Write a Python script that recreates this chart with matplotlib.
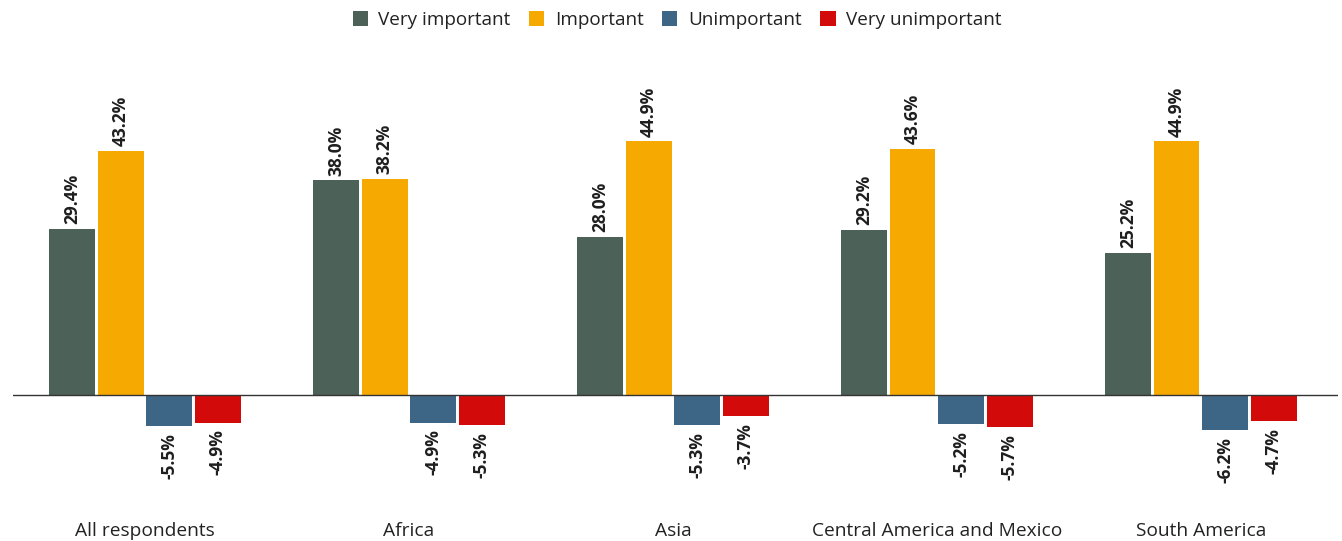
import matplotlib
matplotlib.use("Agg")
import matplotlib.pyplot as plt
import matplotlib.transforms as mtransforms
import numpy as np

plt.rcParams['font.family'] = ['Open Sans', 'DejaVu Sans']

regions = ["All respondents", "Africa", "Asia", "Central America and Mexico", "South America"]
series_names = ["Very important", "Important", "Unimportant", "Very unimportant"]
very_important = [29.4, 38.0, 28.0, 29.2, 25.2]
important = [43.2, 38.2, 44.9, 43.6, 44.9]
unimportant = [-5.5, -4.9, -5.3, -5.2, -6.2]
very_unimportant = [-4.9, -5.3, -3.7, -5.7, -4.7]
colors = ["#4c6157", "#f6a900", "#3d6585", "#d20a0a"]

series = [very_important, important, unimportant, very_unimportant]

W, H = 1342, 541
fig = plt.figure(figsize=(W / 100, H / 100), dpi=100)
ax = fig.add_axes([13 / W, (H - 440) / H, (1338 - 13) / W, (440 - 124) / H])

x = np.arange(len(regions))
step = 0.184
width = 0.174
offsets = (np.arange(4) - 1.5) * step

for vals, name, col, off in zip(series, series_names, colors, offsets):
    bars = ax.bar(x + off, vals, width=width, color=col, label=name, zorder=2)
    for b, v in zip(bars, vals):
        cx = b.get_x() + b.get_width() / 2
        up = v >= 0
        ax.annotate(f"{v:.1f}%", (cx, v), xytext=(0, 3.5 if up else -5),
                    textcoords="offset points", rotation=90, ha="center",
                    va="bottom" if up else "top", fontsize=12.5, fontweight="bold",
                    color="#1e1e1e", annotation_clip=False)

ax.axhline(0, color="#333333", lw=1.0, zorder=3)
ax.set_xlim(-0.5, 4.52)
ax.set_ylim(-8, 48)
ax.set_yticks([])
ax.set_xticks([])
for s in ax.spines.values():
    s.set_visible(False)

# region names along the bottom edge of the figure
name_tr = mtransforms.blended_transform_factory(ax.transData, fig.transFigure)
for xi, name in zip(x, regions):
    ax.text(xi, (H - 531) / H, name, transform=name_tr, ha="center", va="center",
            fontsize=13.8, color="#222222")

handles, labels = ax.get_legend_handles_labels()
fig.legend(handles, labels, loc="center", bbox_to_anchor=(677 / W, (H - 20) / H), ncol=4,
           frameon=False, fontsize=13.6, handlelength=0.8, handleheight=0.8,
           handletextpad=0.55, columnspacing=1.0, labelcolor="#222222")

fig.savefig("out.png", dpi=100, facecolor="white")
